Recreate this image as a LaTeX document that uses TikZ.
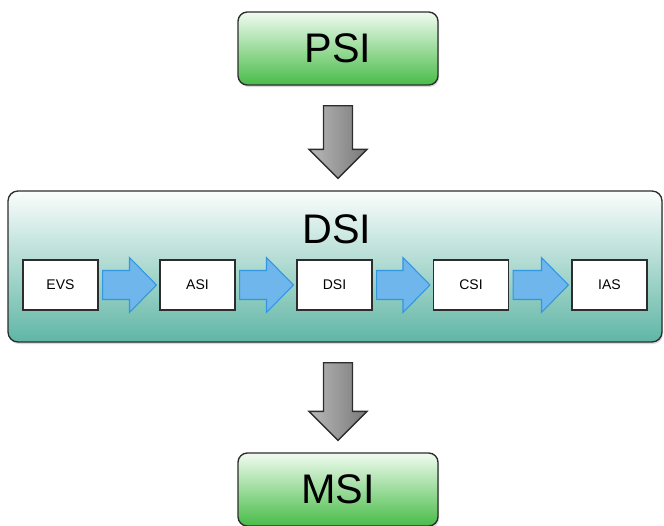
\documentclass[tikz,border=0pt]{standalone}
\usepackage{fontspec}
\setmainfont{Liberation Sans}
\usetikzlibrary{calc,shadows}

\definecolor{greentop}{RGB}{240,251,240}
\definecolor{greenbot}{RGB}{72,188,72}
\definecolor{tealtop}{RGB}{250,253,252}
\definecolor{tealbot}{RGB}{96,182,165}
\definecolor{bluefill}{RGB}{110,182,236}
\definecolor{blueline}{RGB}{50,150,225}
\definecolor{grayline}{RGB}{45,45,45}

\tikzset{
  bigbox/.style={draw=grayline, line width=1pt, rounded corners=7pt, inner sep=0pt,
    minimum width=150pt, minimum height=54.75pt,
    top color=greentop, bottom color=greenbot, font=\fontsize{31}{34}\selectfont,
    drop shadow={opacity=0.3, shadow xshift=0.8pt, shadow yshift=-1.5pt}},
  stagebox/.style={draw=grayline, line width=0.8pt, fill=white, inner sep=0pt,
    minimum width=56.25pt, minimum height=37.5pt, font=\fontsize{10.5}{12}\selectfont},
  bluearrow/.style={draw=blueline, line width=0.8pt, fill=bluefill, line join=miter},
  grayarrow/.style={draw=grayline, line width=1pt, left color=gray!55, right color=gray!95!black, line join=miter}
}

% block arrow between two stage boxes
\newcommand{\stagearrow}[2]{%
  \draw[bluearrow] ($(#1.east)+(4,-14.5)$) -- ($(#2.west)+(-30,-14.5)$) -- ($(#2.west)+(-30,-27.5)$)
    -- ($(#2.west)+(-3,0)$) -- ($(#2.west)+(-30,27.5)$) -- ($(#2.west)+(-30,14.5)$) -- ($(#1.east)+(4,14.5)$) -- cycle;}
% block arrow going down between two boxes (kept on the line of the green boxes)
\newcommand{\levelarrow}[2]{%
  \draw[grayarrow] ($(#1.south -| psi)+(-14.5,20)$) -- ($(#2.north -| psi)+(-14.5,-41)$) -- ($(#2.north -| psi)+(-29,-41)$)
    -- ($(#2.north -| psi)+(0,-12)$) -- ($(#2.north -| psi)+(29,-41)$) -- ($(#2.north -| psi)+(14.5,-41)$)
    -- ($(#1.south -| psi)+(14.5,20)$) -- cycle;}

\begin{document}
\begin{tikzpicture}[x=0.75pt,y=0.75pt,yscale=-1,xscale=1]
\useasboundingbox (0,0) rectangle (664,525);

%Shape: Rounded Rect [id:psi]
\node [bigbox] (psi) at (338,48.5) {PSI};
%Shape: Rounded Rect [id:msi]
\node [bigbox] (msi) at (338,489.5) {MSI};
%Shape: Rounded Rect [id:dsibox]
\node [draw=grayline, line width=1pt, rounded corners=7.5pt, inner sep=0pt,
  minimum width=490.5pt, minimum height=113.25pt,
  top color=tealtop, bottom color=tealbot,
  drop shadow={opacity=0.3, shadow xshift=0.8pt, shadow yshift=-1.5pt}] (dsibox) at (335,266.5) {};

% Text Node
\node [font=\fontsize{31}{34}\selectfont] (dsilabel) at (337,229) {DSI};

%Shape: Rect [id:stages]
\node [stagebox] (evs) at (60.5,285) {EVS};
\node [stagebox] (asi) at (197.5,285) {ASI};
\node [stagebox] (dsi) at (334.5,285) {DSI};
\node [stagebox] (csi) at (471,285) {CSI};
\node [stagebox] (ias) at (609.5,285) {IAS};

%Shape: Right Arrow [id:flow]
\stagearrow{evs}{asi}
\stagearrow{asi}{dsi}
\stagearrow{dsi}{csi}
\stagearrow{csi}{ias}

%Shape: Down Arrow [id:levels]
\levelarrow{psi}{dsibox}
\levelarrow{dsibox}{msi}

\end{tikzpicture}
\end{document}
